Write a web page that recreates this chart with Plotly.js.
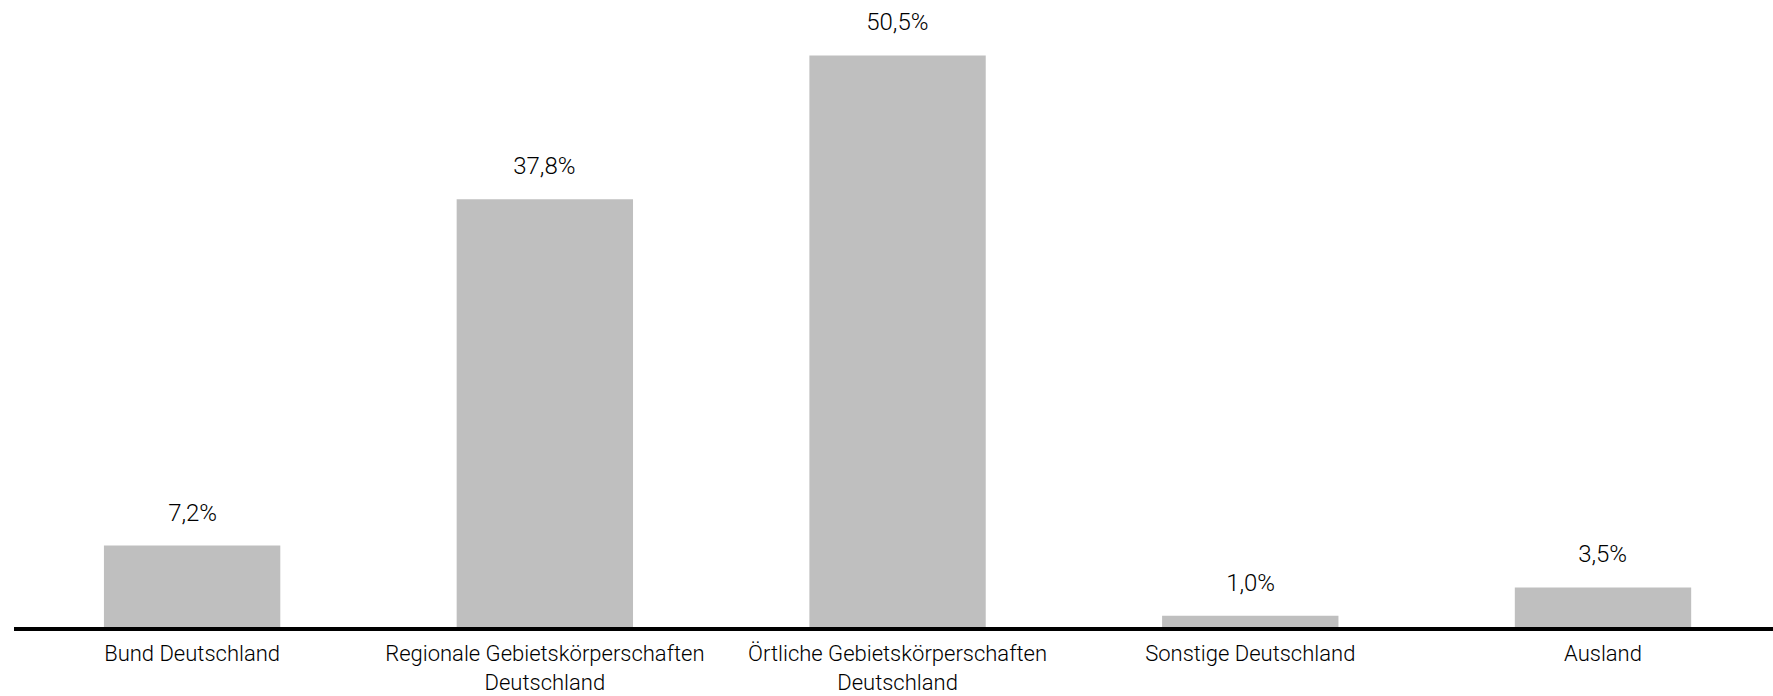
<!DOCTYPE html>
<html><head><meta charset="utf-8">
<script src="https://cdn.plot.ly/plotly-3.0.1.min.js"></script>
<style>html,body{margin:0;padding:0;background:#fff}#chart{width:1773px;height:696px}
#chart text{font-weight:300 !important}</style>
</head><body><div id="chart"></div>
<script>
const categories = ["Bund Deutschland", "Regionale Gebietskörperschaften<br>Deutschland", "Örtliche Gebietskörperschaften<br>Deutschland", "Sonstige Deutschland", "Ausland"];
const values = [7.2, 37.8, 50.5, 1.0, 3.5];
const valueLabels = values.map(v => v.toFixed(1).replace('.', ',') + '%');

const tickFont = {family: 'Roboto, sans-serif', size: 22, color: '#000'};
const labelFont = {family: 'Roboto, sans-serif', size: 24, color: '#000'};
const trace = {
  type: 'bar', x: categories, y: values,
  marker: {color: '#bfbfbf'}, hoverinfo: 'none'
};
const annotations = categories.map((c, i) => ({
  x: c, y: values[i], xref: 'x', yref: 'y', text: valueLabels[i],
  showarrow: false, yanchor: 'bottom', yshift: 17, font: labelFont
}));
const layout = {
  width: 1773, height: 696,
  margin: {l: 14, r: 0, t: 0, b: 69},
  paper_bgcolor: '#fff', plot_bgcolor: '#fff',
  bargap: 0.5, showlegend: false, font: tickFont,
  xaxis: {type: 'category', range: [-0.505, 4.482], showline: true, linecolor: '#000', linewidth: 4,
          ticks: 'outside', ticklen: 4, tickcolor: 'rgba(0,0,0,0)', showgrid: false, zeroline: false,
          tickfont: tickFont, fixedrange: true},
  yaxis: {range: [0, 55.4], visible: false, showgrid: false, zeroline: false, fixedrange: true},
  annotations: annotations
};
Plotly.newPlot('chart', [trace], layout, {displayModeBar: false, staticPlot: true});
</script></body></html>
